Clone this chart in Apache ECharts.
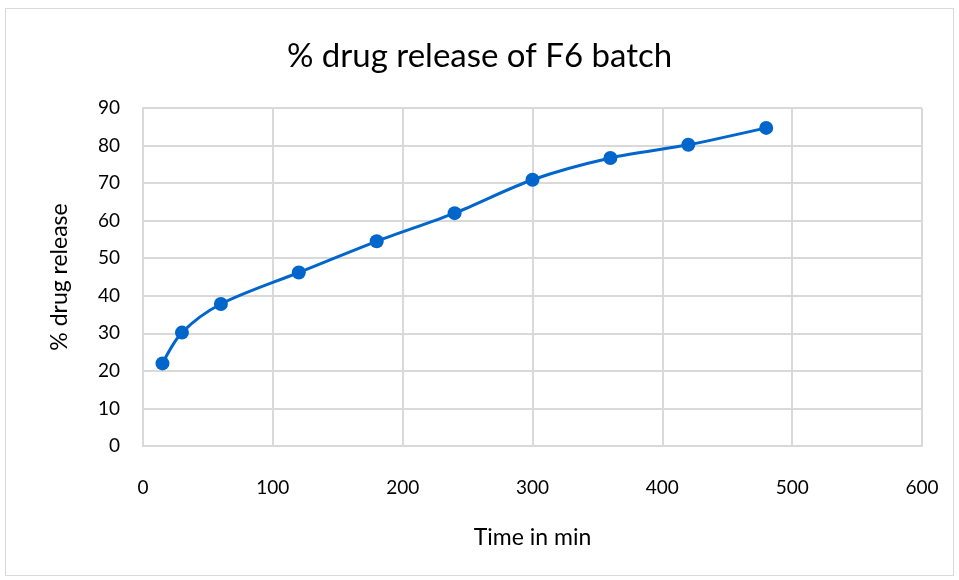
<!DOCTYPE html>
<html>
<head>
<meta charset="utf-8">
<script src="https://cdn.jsdelivr.net/npm/echarts@6/dist/echarts.min.js"></script>
<style>
  html, body { margin: 0; padding: 0; background: #fff; }
  #frame { position: absolute; left: 5px; top: 8px; width: 947px; height: 566px; border: 1px solid #d9d9d9; }
  #chart { width: 959px; height: 580px; }
</style>
</head>
<body>
<div id="frame"></div>
<div id="chart"></div>
<script>
const timeMin = [15, 30, 60, 120, 180, 240, 300, 360, 420, 480]
const release = [22.0, 30.2, 37.8, 46.2, 54.5, 62.0, 70.9, 76.7, 80.2, 84.7]

const font = 'Lato'
const chart = echarts.init(document.getElementById('chart'))
chart.setOption({
  animation: false,
  title: {
    text: '% drug release of F6 batch',
    left: 'center', top: 35,
    textStyle: { fontFamily: font, fontSize: 33, fontWeight: 'normal', color: '#000' }
  },
  grid: { left: 143, right: 37, top: 108, bottom: 134 },
  xAxis: {
    type: 'value', min: 0, max: 600, interval: 100,
    name: 'Time in min', nameLocation: 'middle', nameGap: 80,
    nameTextStyle: { fontFamily: font, fontSize: 23, color: '#000' },
    axisLine: { show: true, lineStyle: { color: '#d9d9d9', width: 2 } },
    axisTick: { show: false },
    axisLabel: { fontFamily: font, fontSize: 19, color: '#000', margin: 32 },
    splitLine: { show: true, lineStyle: { color: '#d9d9d9', width: 2 } }
  },
  yAxis: {
    type: 'value', min: 0, max: 90, interval: 10,
    name: '% drug release', nameLocation: 'middle', nameGap: 72, nameRotate: 90,
    nameTextStyle: { fontFamily: font, fontSize: 23, color: '#000' },
    axisLine: { show: true, lineStyle: { color: '#d9d9d9', width: 2 } },
    axisTick: { show: false },
    axisLabel: { fontFamily: font, fontSize: 19, color: '#000', margin: 23 },
    splitLine: { show: true, lineStyle: { color: '#d9d9d9', width: 2 } }
  },
  series: [{
    type: 'line',
    data: timeMin.map((t, i) => [t, release[i]]),
    smooth: 0.3,
    symbol: 'circle', symbolSize: 14,
    lineStyle: { color: '#0066cc', width: 3 },
    itemStyle: { color: '#0066cc' }
  }]
})
</script>
</body>
</html>
